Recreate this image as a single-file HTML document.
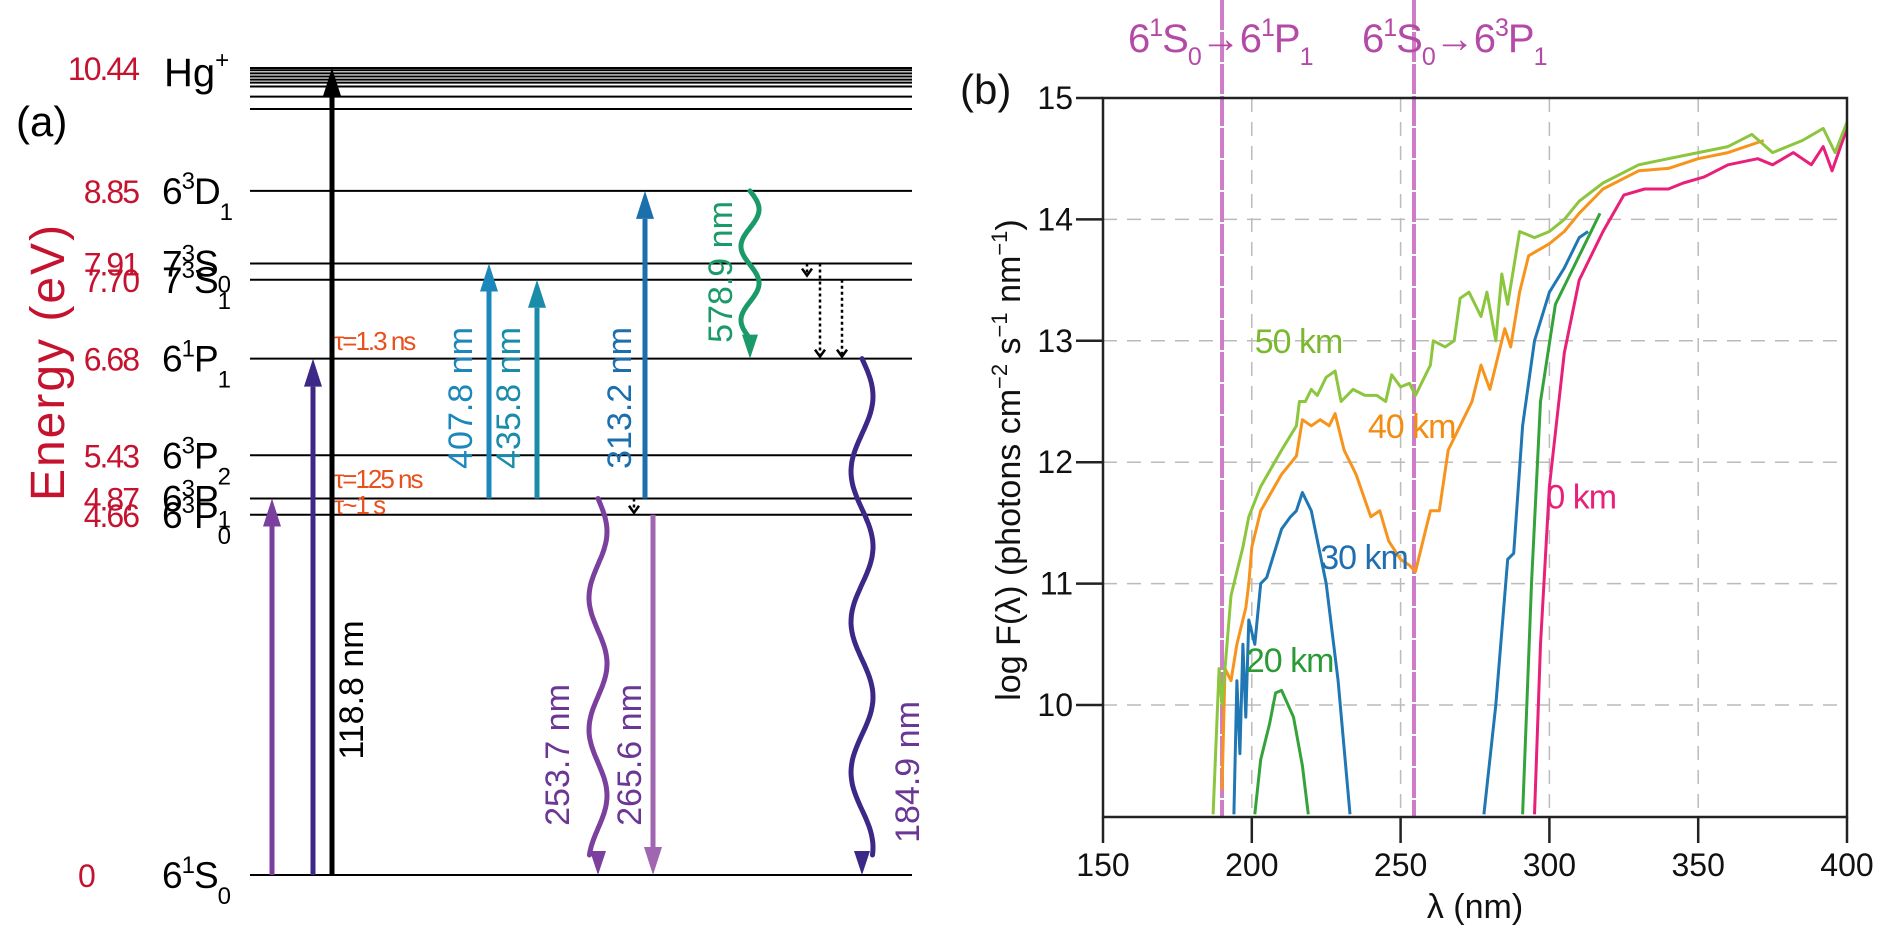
<!DOCTYPE html>
<html><head><meta charset="utf-8"><style>
html,body{margin:0;padding:0;background:#fff;}
svg{display:block;font-family:"Liberation Sans",sans-serif;}
</style></head><body>
<svg id="fig" width="1892" height="945" viewBox="0 0 1892 945" xmlns="http://www.w3.org/2000/svg">
<g id="left"></g>
<g id="right"></g>
</svg>
<script>
// ---------- Panel (a) data ----------
const levelEnergies = [0, 4.66, 4.87, 5.43, 6.68, 7.70, 7.91, 8.85];
const levelLabels = [["6","1","S","0"],["6","3","P","0"],["6","3","P","1"],["6","3","P","2"],["6","1","P","1"],["7","3","S","1"],["7","3","S","0"],["6","3","D","1"]];
const energyLabels = ["0","4.66","4.87","5.43","6.68","7.70","7.91","8.85"];
const ionEnergy = 10.44;
const rydbergOffsets = [0, 0.03, 0.07, 0.11, 0.15, 0.19, 0.24, 0.37, 0.53];

// ---------- Panel (b) data ----------
const xTicks = [150, 200, 250, 300, 350, 400];
const yTicks = [10, 11, 12, 13, 14, 15];
const lambda50 = [187,189,190,193,195,197,199,203,210,215,216,218,220,222,225,228,230,234,238,242,245,247,250,253,255,260,261,265,268,270,273,277,279,282,284,286,290,295,300,305,310,318,330,340,350,360,368,375,385,392,396,400];
const flux50 = [9.1,10.3,10.0,10.9,11.1,11.3,11.55,11.8,12.1,12.3,12.5,12.5,12.6,12.55,12.7,12.75,12.5,12.6,12.55,12.55,12.5,12.72,12.62,12.65,12.55,12.8,13.0,12.95,13.0,13.35,13.4,13.2,13.4,13.0,13.55,13.3,13.9,13.85,13.9,14.0,14.15,14.3,14.45,14.5,14.55,14.6,14.7,14.55,14.65,14.75,14.55,14.8];
const lambda40 = [190,191,193,195,198,199,200,203,210,215,217,220,223,226,228,231,235,240,243,246,250,253,255,258,260,263,266,270,274,277,280,285,287,290,293,300,305,310,318,330,340,350,360,372];
const flux40 = [9.3,10.3,10.2,10.5,10.8,11.0,11.3,11.6,11.9,12.05,12.35,12.3,12.35,12.3,12.4,12.1,11.9,11.55,11.6,11.35,11.2,11.15,11.1,11.4,11.6,11.6,12.1,12.3,12.5,12.8,12.6,13.1,12.95,13.4,13.7,13.8,13.9,14.05,14.25,14.4,14.42,14.5,14.55,14.65];
const lambda30a = [194,195,196,197,198,199,201,203,205,210,213,215,217,220,225,229,233];
const flux30a = [9.1,10.2,9.6,10.5,9.9,10.7,10.5,11.0,11.05,11.45,11.55,11.6,11.75,11.6,11.0,10.2,9.1];
const lambda30b = [278,282,286,288,291,295,300,305,310,313];
const flux30b = [9.1,10.0,11.2,11.25,12.3,13.0,13.4,13.6,13.85,13.9];
const lambda20a = [201,203,206,208,210,214,217,219];
const flux20a = [9.1,9.55,9.85,10.1,10.12,9.9,9.5,9.1];
const lambda20b = [291,294,297,302,308,317];
const flux20b = [9.1,11.0,12.5,13.3,13.6,14.05];
const lambda0 = [295,297,300,305,310,318,325,332,340,345,352,360,370,375,382,388,392,395,400];
const flux0 = [9.1,10.5,11.8,12.9,13.5,13.9,14.2,14.25,14.25,14.3,14.35,14.45,14.5,14.45,14.55,14.45,14.6,14.4,14.75];
const transitionLambdas = [190, 254.5];

const NS = "http://www.w3.org/2000/svg";
function mk(parent, tag, attrs, text){
  const e = document.createElementNS(NS, tag);
  for (const k in attrs) e.setAttribute(k, attrs[k]);
  if (text !== undefined) e.textContent = text;
  parent.appendChild(e);
  return e;
}
const L = document.getElementById('left');
const R = document.getElementById('right');

// ---------- Panel (a) ----------
const eY = e => 875 - e * 77.3;
const X0 = 250, X1 = 912;
rydbergOffsets.forEach((o) => {
  const l = mk(L, 'line', {x1:X0, x2:X1, y1:eY(ionEnergy - o), y2:eY(ionEnergy - o), stroke:'#000', 'stroke-width':2});
  
  
});
levelEnergies.forEach((e, i) => {
  const y = eY(e);
  const l = mk(L, 'line', {x1:X0, x2:X1, y1:y, y2:y, stroke:'#000', 'stroke-width':2});
  
  
  const lab = levelLabels[i];
  const t = mk(L, 'text', {x:162, y:y + 13, 'font-size':37, fill:'#000', 'letter-spacing':-1});
  
  
  mk(t, 'tspan', {}, lab[0]);
  mk(t, 'tspan', {dy:-15, 'font-size':24}, lab[1]);
  mk(t, 'tspan', {dy:15}, lab[2]);
  mk(t, 'tspan', {dy:16, 'font-size':24}, lab[3]);
  const et = mk(L, 'text', {x: i === 0 ? 78 : 138, y:y + 12, 'font-size':32, fill:'#c4122f', 'text-anchor': i === 0 ? 'start' : 'end', 'letter-spacing':-2});
  et.textContent = energyLabels[i];
  
  
});
{
  const y = eY(ionEnergy);
  const et = mk(L, 'text', {x:138, y:y + 12, 'font-size':32, fill:'#c4122f', 'text-anchor':'end', 'letter-spacing':-2}, '10.44');
  
  
  const t = mk(L, 'text', {x:164, y:y + 18, 'font-size':40, fill:'#000'});
  
  
  mk(t, 'tspan', {}, 'Hg');
  mk(t, 'tspan', {dy:-18, 'font-size':24}, '+');
}
const ta = mk(L, 'text', {x:16, y:136, 'font-size':42, fill:'#000'}, '(a)');
 
const ey = mk(L, 'text', {x:0, y:0, 'font-size':48, fill:'#c4122f', 'text-anchor':'middle', transform:'translate(64,362) rotate(-90)', 'letter-spacing':2}, 'Energy (eV)');
 

function arrow(x, y1, y2, color, w, name, head){
  const g = mk(L, 'g', {});
  
  
  const dir = y2 < y1 ? -1 : 1;
  const hl = head || 28, hw = w * 2.8 + 4;
  mk(g, 'line', {x1:x, x2:x, y1:y1, y2:y2 - dir * hl, stroke:color, 'stroke-width':w});
  mk(g, 'polygon', {points:`${x},${y2} ${x - hw/2},${y2 - dir*hl} ${x + hw/2},${y2 - dir*hl}`, fill:color});
  return g;
}
function wavy(x, y1, y2, amp, periods, color, w, name){
  const g = mk(L, 'g', {});
  
  
  let d = '';
  const n = 120, len = y2 - y1 - 20;
  for (let i = 0; i <= n; i++){
    const t = i / n;
    const yy = y1 + t * len;
    const xx = x + amp * Math.sin(t * periods * 2 * Math.PI);
    d += (i ? 'L' : 'M') + xx.toFixed(1) + ',' + yy.toFixed(1);
  }
  mk(g, 'path', {d:d, fill:'none', stroke:color, 'stroke-width':w, 'stroke-linecap':'round'});
  mk(g, 'polygon', {points:`${x},${y2} ${x-8},${y2-24} ${x+8},${y2-24}`, fill:color});
  return g;
}
function dotted(x, y1, y2, name){
  const g = mk(L, 'g', {});
  
  
  mk(g, 'line', {x1:x, x2:x, y1:y1, y2:y2 - 2, stroke:'#000', 'stroke-width':2.5, 'stroke-dasharray':'3,3'});
  mk(g, 'polyline', {points:`${x-5},${y2-9} ${x},${y2-2} ${x+5},${y2-9}`, fill:'none', stroke:'#000', 'stroke-width':2.5});
}
function vlabel(x, y, txt, color, name, size){
  const t = mk(L, 'text', {x:0, y:0, 'font-size':size || 34, fill:color, 'text-anchor':'middle', transform:`translate(${x},${y}) rotate(-90)`}, txt);
  
  
}
arrow(272, eY(0), eY(4.87), '#7b3f9e', 5, 'arrow-253.7-absorption');
arrow(313, eY(0), eY(6.68), '#3b2887', 5, 'arrow-184.9-absorption');
arrow(332, eY(0), eY(ionEnergy), '#000', 5, 'arrow-118.8-ionization');
vlabel(363, 690, '118.8 nm', '#000', 'label-118.8nm');
arrow(489, eY(4.87), eY(7.91), '#1b87bb', 5, 'arrow-407.8');
vlabel(472, 398, '407.8 nm', '#1b87bb', 'label-407.8nm');
arrow(537, eY(4.87), eY(7.70), '#1a8caa', 5, 'arrow-435.8');
vlabel(520, 398, '435.8 nm', '#1a8caa', 'label-435.8nm');
arrow(645, eY(4.87), eY(8.85), '#1b6fad', 5, 'arrow-313.2');
vlabel(631, 398, '313.2 nm', '#1b6fad', 'label-313.2nm');
wavy(750, eY(8.85), eY(6.68), 9, 2, '#1a9a68', 5, 'wave-578.9');
vlabel(732, 272, '578.9 nm', '#1a9a68', 'label-578.9nm');
wavy(598, eY(4.87), eY(0), 9, 2.7, '#7b3f9e', 5, 'wave-253.7');
vlabel(569, 755, '253.7 nm', '#6a3795', 'label-253.7nm');
arrow(653, eY(4.66), eY(0), '#a066b0', 5, 'arrow-265.6');
vlabel(641, 755, '265.6 nm', '#6a3795', 'label-265.6nm');
wavy(862, eY(6.68), eY(0), 11, 3.3, '#3b2887', 5, 'wave-184.9');
vlabel(919, 772, '184.9 nm', '#6a3795', 'label-184.9nm');
dotted(807, eY(7.91), eY(7.91) + 14, 'dotted-decay-1');
dotted(820, eY(7.91), eY(6.68), 'dotted-decay-2');
dotted(842, eY(7.70), eY(6.68), 'dotted-decay-3');
dotted(634, eY(4.87), eY(4.66), 'dotted-decay-4');
[['τ=1.3 ns', 350],['τ=125 ns', 488],['τ~1 s', 514]].forEach(([s, y]) => {
  const t = mk(L, 'text', {x:334, y:y, 'font-size':26, fill:'#e8501e', 'letter-spacing':-2}, s);
  
  
});

// ---------- Panel (b) ----------
const PX0 = 1103, PX1 = 1847, PY0 = 98, PYB = 817;
const xS = v => PX0 + (v - 150) / 250 * (PX1 - PX0);
const yS = v => 705 - (v - 10) * 121.4;
xTicks.slice(1, -1).forEach(v => {
  const l = mk(R, 'line', {x1:xS(v), x2:xS(v), y1:PY0, y2:PYB, stroke:'#bbb', 'stroke-width':1.5, 'stroke-dasharray':'14,10'});
   
});
yTicks.slice(0, -1).forEach(v => {
  const l = mk(R, 'line', {x1:PX0, x2:PX1, y1:yS(v), y2:yS(v), stroke:'#bbb', 'stroke-width':1.5, 'stroke-dasharray':'14,10'});
   
});
const defs = mk(R, 'defs', {});
const cp = mk(defs, 'clipPath', {id:'plotclip'});
mk(cp, 'rect', {x:PX0, y:PY0, width:PX1 - PX0, height:PYB - PY0});
transitionLambdas.forEach(v => {
  const l = mk(R, 'line', {x1:xS(v), x2:xS(v), y1:0, y2:PYB, stroke:'#cf7cc6', 'stroke-width':4, 'stroke-dasharray':'30,2'});
   
});
const series = [
  [lambda0, flux0, '#e8207a', 'series-0km'],
  [lambda20a, flux20a, '#34a33a', 'series-20km-a'],
  [lambda20b, flux20b, '#34a33a', 'series-20km-b'],
  [lambda30a, flux30a, '#1f77b4', 'series-30km-a'],
  [lambda30b, flux30b, '#1f77b4', 'series-30km-b'],
  [lambda40, flux40, '#f7941d', 'series-40km'],
  [lambda50, flux50, '#8cc63f', 'series-50km']
];
series.forEach(([xs, ys, c, n]) => {
  const d = xs.map((x, i) => (i ? 'L' : 'M') + xS(x).toFixed(1) + ',' + yS(ys[i]).toFixed(1)).join('');
  const p = mk(R, 'path', {d:d, fill:'none', stroke:c, 'stroke-width':3, 'stroke-linejoin':'round', 'clip-path':'url(#plotclip)'});
  
  
});
const fr = mk(R, 'rect', {x:PX0, y:PY0, width:PX1 - PX0, height:PYB - PY0, fill:'none', stroke:'#222', 'stroke-width':2.5});
 
xTicks.forEach(v => {
  const l = mk(R, 'line', {x1:xS(v), x2:xS(v), y1:PYB, y2:PYB + 26, stroke:'#222', 'stroke-width':2.5});
   
  const t = mk(R, 'text', {x:xS(v), y:876, 'font-size':32, 'text-anchor':'middle', fill:'#111'}, String(v));
   
});
yTicks.forEach(v => {
  const l = mk(R, 'line', {x1:PX0 - 27, x2:PX0, y1:yS(v), y2:yS(v), stroke:'#222', 'stroke-width':2.5});
   
  const t = mk(R, 'text', {x:PX0 - 30, y:yS(v) + 11, 'font-size':32, 'text-anchor':'end', fill:'#111'}, String(v));
   
});
const xt = mk(R, 'text', {x:1475, y:918, 'font-size':34, 'text-anchor':'middle', fill:'#111'}, 'λ (nm)');
 
const yt = mk(R, 'text', {x:0, y:0, 'font-size':34, 'text-anchor':'middle', fill:'#111', transform:'translate(1020,460) rotate(-90)'});
 
mk(yt, 'tspan', {}, 'log F(λ) (photons cm');
mk(yt, 'tspan', {dy:-13, 'font-size':22}, '−2');
mk(yt, 'tspan', {dy:13}, ' s');
mk(yt, 'tspan', {dy:-13, 'font-size':22}, '−1');
mk(yt, 'tspan', {dy:13}, ' nm');
mk(yt, 'tspan', {dy:-13, 'font-size':22}, '−1');
mk(yt, 'tspan', {dy:13}, ')');
const tb = mk(R, 'text', {x:960, y:104, 'font-size':42, fill:'#111'}, '(b)');
 
[[1128, '1'], [1362, '3']].forEach(([x, sup]) => {
  const t = mk(R, 'text', {x:x, y:52, 'font-size':40, fill:'#b44aa6', 'letter-spacing':-1});
   
  mk(t, 'tspan', {}, '6');
  mk(t, 'tspan', {dy:-16, 'font-size':25}, '1');
  mk(t, 'tspan', {dy:16}, 'S');
  mk(t, 'tspan', {dy:13, 'font-size':25}, '0');
  mk(t, 'tspan', {dy:-13}, '→6');
  mk(t, 'tspan', {dy:-16, 'font-size':25}, sup);
  mk(t, 'tspan', {dy:16}, 'P');
  mk(t, 'tspan', {dy:13, 'font-size':25}, '1');
});
[['50 km', 201, 12.9, '#7cb82f'], ['40 km', 239, 12.2, '#f28c12'], ['30 km', 223, 11.12, '#1f6fb0'], ['20 km', 198, 10.27, '#2a9a35'], ['0 km', 299, 11.62, '#e8207a']].forEach(([s, x, y, c]) => {
  const t = mk(R, 'text', {x:xS(x), y:yS(y), 'font-size':34, fill:c, 'letter-spacing':-1}, s);
   
});
</script>
</body></html>
